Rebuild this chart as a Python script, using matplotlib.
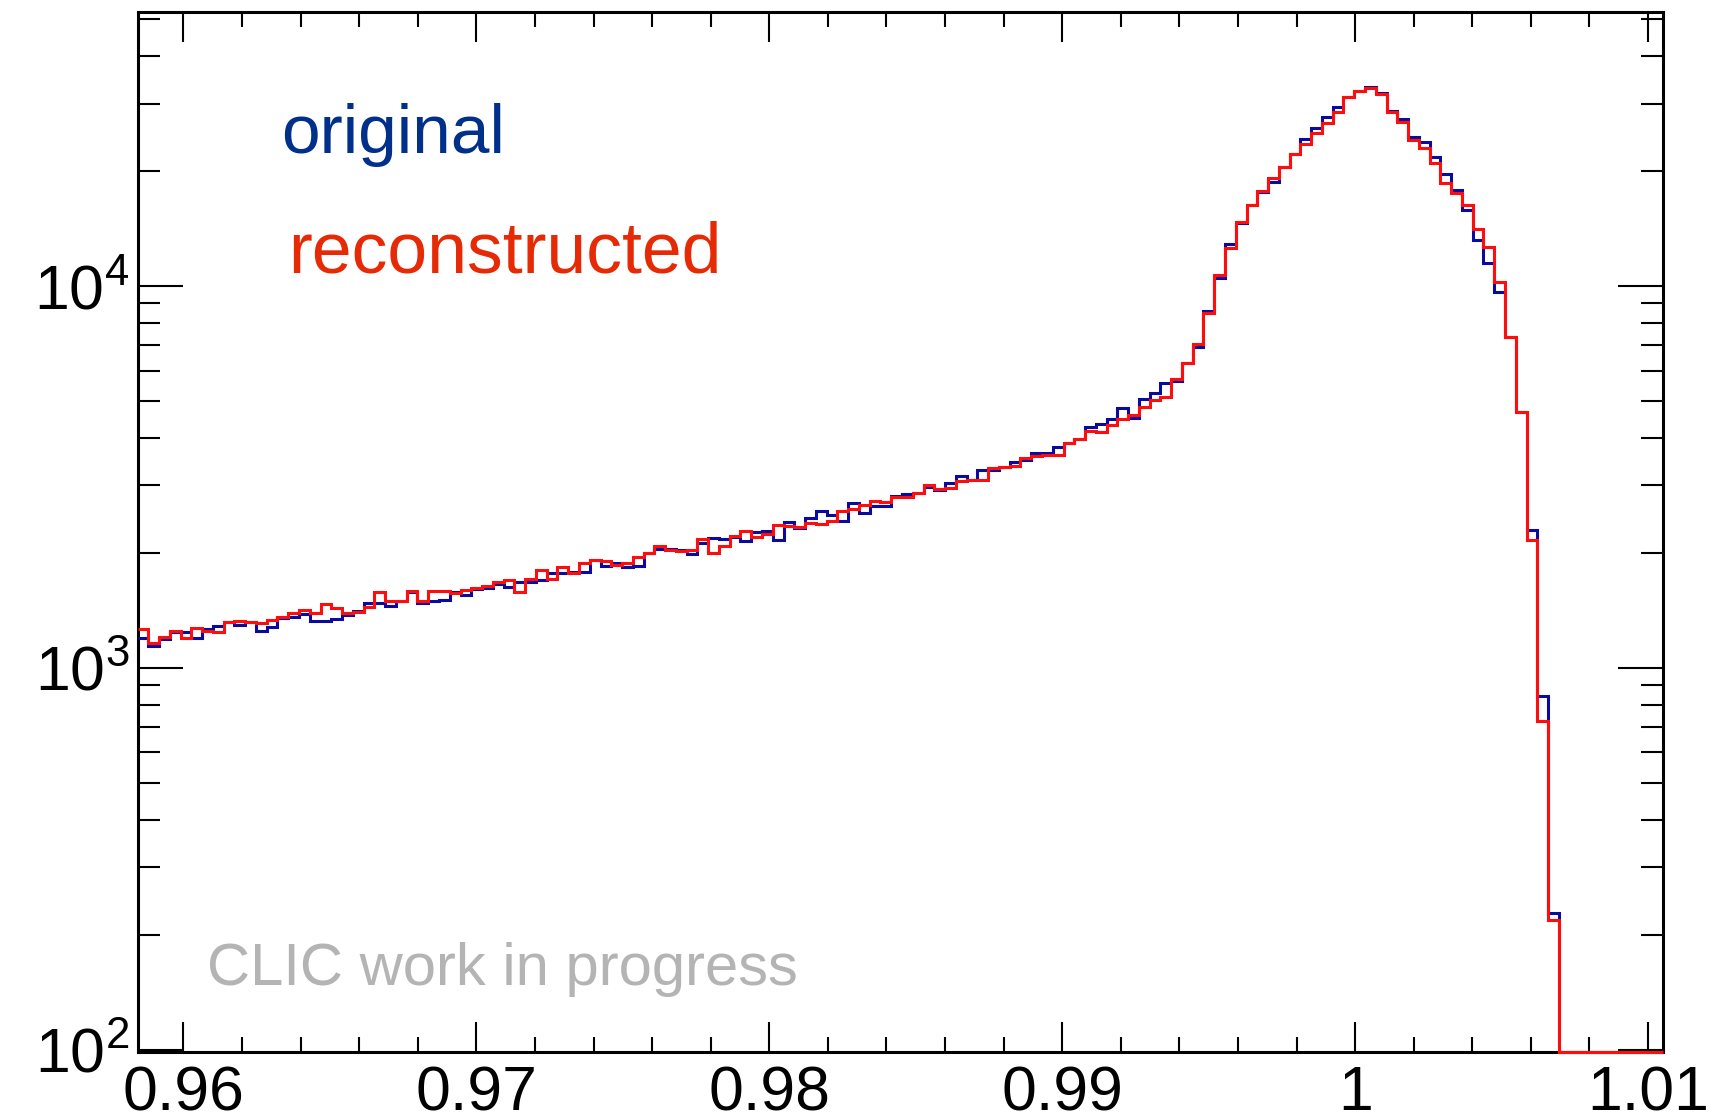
import numpy as np
import matplotlib
matplotlib.use('Agg')
import matplotlib.pyplot as plt
from matplotlib.ticker import MultipleLocator, LogLocator, FuncFormatter, NullFormatter

plt.rcParams['font.family'] = ['Liberation Sans', 'DejaVu Sans']
plt.rcParams['mathtext.fontset'] = 'custom'
plt.rcParams['mathtext.rm'] = 'Liberation Sans'

# binning of the energy ratio histogram
x_lo = 0.95843
x_hi = 1.01051
bin_w = 0.0003676
n_bins = 142

# entries per bin (only the first 132 bins are filled)
original_counts = [
    1194, 1143, 1187, 1243, 1243, 1194, 1261, 1287, 1321, 1294,
    1318, 1251, 1276, 1353, 1356, 1380, 1323, 1323, 1342, 1375,
    1411, 1481, 1475, 1455, 1499, 1583, 1475, 1499, 1505, 1583,
    1551, 1605, 1615, 1657, 1631, 1674, 1681, 1698, 1768, 1768,
    1786, 1786, 1915, 1851, 1877, 1833, 1848, 1994, 2047, 2042,
    2034, 1982, 2126, 2191, 2170, 2204, 2152, 2263, 2281, 2161,
    2413, 2327, 2462, 2573, 2512, 2423, 2706, 2547, 2652, 2652,
    2812, 2851, 2874, 2968, 2920, 3041, 3185, 3103, 3296, 3296,
    3362, 3451, 3500, 3643, 3643, 3793, 3886, 3973, 4280, 4349,
    4482, 4798, 4519, 5047, 5253, 5579, 5646, 6268, 6933, 8612,
    10466, 12851, 14583, 16255, 17652, 18745, 20523, 22148, 24199, 25856,
    27740, 29464, 31171, 32380, 33240, 31934, 28761, 27301, 24592, 23861,
    21714, 19634, 17830, 15803, 13192, 11503, 9658, 7335, 4667, 2295,
    844, 228,
]
reconstructed_counts = [
    1261, 1164, 1202, 1249, 1194, 1274, 1249, 1238, 1321, 1328,
    1318, 1313, 1334, 1361, 1394, 1417, 1389, 1466, 1431, 1389,
    1403, 1446, 1576, 1499, 1499, 1592, 1499, 1592, 1592, 1567,
    1599, 1615, 1637, 1681, 1698, 1583, 1708, 1804, 1708, 1840,
    1775, 1877, 1915, 1907, 1858, 1885, 1946, 1994, 2084, 2034,
    2022, 2034, 2174, 1994, 2084, 2213, 2286, 2204, 2240, 2365,
    2351, 2332, 2389, 2379, 2423, 2578, 2600, 2668, 2734, 2723,
    2806, 2806, 2863, 3009, 2932, 2950, 3090, 3103, 3103, 3342,
    3362, 3383, 3535, 3585, 3606, 3606, 3886, 3973, 4178, 4136,
    4323, 4474, 4592, 4827, 5025, 5128, 5703, 6268, 7045, 8475,
    10679, 12545, 14731, 16255, 17724, 19127, 20523, 22148, 23525, 25087,
    26754, 28589, 31171, 32380, 32905, 31736, 28589, 26915, 24099, 22916,
    20939, 18556, 17545, 16286, 14064, 12668, 10259, 7335, 4667, 2165,
    727, 218,
]

y_lo = 98.6
y_hi = 52100

edges = x_lo + bin_w * np.arange(n_bins + 1)
edges[-1] = x_hi


def filled(counts):
    h = np.zeros(n_bins)
    h[:len(counts)] = counts
    # empty bins sit on the lower frame like in ROOT
    return np.maximum(h, y_lo)


fig = plt.figure(figsize=(17.11, 11.17), dpi=100)
ax = fig.add_axes([137.5 / 1711, 65 / 1117, (1663 - 137.5) / 1711, (1052 - 12) / 1117])

ax.stairs(filled(original_counts), edges, baseline=None, color='#0a0a9e',
          lw=2.2, zorder=3, clip_on=False)
ax.stairs(filled(reconstructed_counts), edges, baseline=None, color='#ff0d0d',
          lw=2.2, zorder=4, clip_on=False)

ax.set_yscale('log')
ax.set_xlim(x_lo, x_hi)
ax.set_ylim(y_lo, y_hi)

ax.xaxis.set_major_locator(MultipleLocator(0.01))
ax.xaxis.set_minor_locator(MultipleLocator(0.002))
ax.xaxis.set_major_formatter(FuncFormatter(lambda v, p: '%g' % round(v, 4)))
ax.yaxis.set_major_locator(LogLocator(base=10, numticks=10))
ax.yaxis.set_minor_locator(LogLocator(base=10, subs=np.arange(2, 10), numticks=20))
ax.yaxis.set_minor_formatter(NullFormatter())

for s in ax.spines.values():
    s.set_linewidth(2.2)
ax.tick_params(which='both', direction='in', top=True, right=True, width=1.5,
               labelsize=45)
ax.tick_params(axis='x', which='major', length=21.6, pad=9)
ax.tick_params(axis='x', which='minor', length=10.8)
ax.tick_params(axis='y', which='major', length=32.4, pad=6)
ax.tick_params(axis='y', which='minor', length=15.8)

fig.text(281 / 1711, 1 - 152.8 / 1117, 'original', color='#00308a',
         fontsize=50, va='baseline')
fig.text(288 / 1711, 1 - 272.8 / 1117, 'reconstructed', color='#e62a05',
         fontsize=51.5, va='baseline')
fig.text(207 / 1711, 1 - 985 / 1117, 'CLIC work in progress', color='#b4b4b4',
         fontsize=43, va='baseline')

fig.savefig('out.png', dpi=100)
